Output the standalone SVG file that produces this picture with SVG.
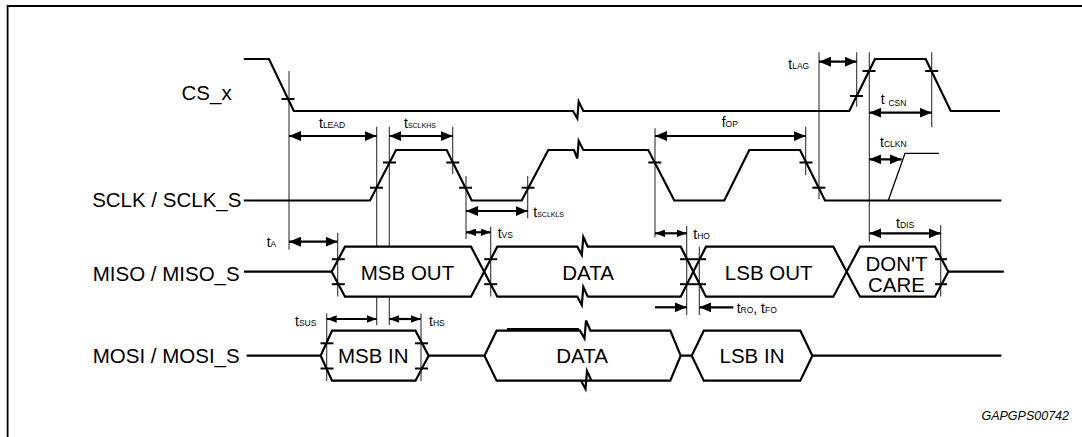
<svg xmlns="http://www.w3.org/2000/svg" width="1082" height="437" viewBox="0 0 1082 437">
<style>
.sig{fill:none;stroke:#000;stroke-width:2.2;stroke-linejoin:miter}
.thin{fill:none;stroke:#000;stroke-width:1.3}
.ref{stroke:#333;stroke-width:1.1}
.tick{stroke:#000;stroke-width:2}
.arr{stroke:#000;stroke-width:2.2}
.lbl{font-family:"Liberation Sans",Arial,sans-serif;font-size:20.5px;fill:#000}
.box{font-family:"Liberation Sans",Arial,sans-serif;font-size:20.5px;fill:#000;text-anchor:middle}
.t{font-family:"Liberation Sans",Arial,sans-serif;font-size:14px;fill:#000}
.sub{font-size:8.5px}
.sub7{font-size:7px}
.id{font-family:"Liberation Sans",Arial,sans-serif;font-size:12.5px;font-style:italic;fill:#000;text-anchor:end}
</style>
<defs>
<marker id="ah" viewBox="0 0 12 10" refX="12" refY="5" markerWidth="12" markerHeight="10" markerUnits="userSpaceOnUse" orient="auto-start-reverse"><path d="M0,0 L12,5 L0,10 z" fill="#000"/></marker>
<marker id="as" viewBox="0 0 10 7.5" refX="10" refY="3.75" markerWidth="10" markerHeight="7.5" markerUnits="userSpaceOnUse" orient="auto-start-reverse"><path d="M0,0 L10,3.75 L0,7.5 z" fill="#000"/></marker>
</defs>
<rect width="1082" height="437" fill="#fff"/>
<g id="frame" fill="none" stroke="#000" stroke-width="1.8">
<path d="M7.6,437 V6 H1082"/>
</g>

<g id="references">
<line class="ref" x1="289" y1="71" x2="289" y2="249.5"/>
<line class="ref" x1="337.7" y1="233" x2="337.7" y2="296.5"/>
<line class="ref" x1="376.7" y1="126.7" x2="376.7" y2="246.7"/>
<line class="ref" x1="376.7" y1="296.7" x2="376.7" y2="325"/>
<line class="ref" x1="389.3" y1="126.7" x2="389.3" y2="246.7"/>
<line class="ref" x1="389.3" y1="296.7" x2="389.3" y2="325"/>
<line class="ref" x1="452.7" y1="126.7" x2="452.7" y2="174"/>
<line class="ref" x1="466" y1="176" x2="466" y2="239"/>
<line class="ref" x1="490.7" y1="226.7" x2="490.7" y2="296.5"/>
<line class="ref" x1="527.7" y1="176" x2="527.7" y2="218.3"/>
<line class="ref" x1="655" y1="128.3" x2="655" y2="237.3"/>
<line class="ref" x1="686.7" y1="226" x2="686.7" y2="315"/>
<line class="ref" x1="699.3" y1="246.7" x2="699.3" y2="315"/>
<line class="ref" x1="805.7" y1="126.7" x2="805.7" y2="175"/>
<line class="ref" x1="819" y1="52.3" x2="819" y2="199.3"/>
<line class="ref" x1="856.7" y1="52.3" x2="856.7" y2="106.7"/>
<line class="ref" x1="869.3" y1="52.3" x2="869.3" y2="241.7"/>
<line class="ref" x1="931.7" y1="52.3" x2="931.7" y2="127.3"/>
<line class="ref" x1="940.7" y1="225" x2="940.7" y2="296.5"/>
<line class="ref" x1="326.7" y1="313.3" x2="326.7" y2="381"/>
<line class="ref" x1="421" y1="313.3" x2="421" y2="381"/>
</g>

<g id="cs">
<text class="lbl" x="231.7" y="100" text-anchor="end">CS_x</text>
<path class="sig" d="M243.8,59 H269 L293.8,111 H573 L577.3,118.5 L578.7,101.5 L583.3,111 H849.3 L875,59 H925.7 L950.7,111 H1000"/>
<g class="tick"><line x1="281.5" y1="99" x2="294.5" y2="99"/><line x1="850" y1="96" x2="863" y2="96"/><line x1="862.5" y1="71" x2="875.5" y2="71"/><line x1="925.2" y1="71" x2="938.2" y2="71"/></g>
</g>

<g id="sclk">
<text class="lbl" x="241.4" y="206.7" text-anchor="end">SCLK / SCLK_S</text>
<path class="sig" d="M243.8,200.5 H370 L396,150 H446.7 L471.7,200.5 H521.7 L548.3,150 H574 L577.3,158.5 L578.7,141 L583.3,150 H648.3 L674.3,200.5 H724.3 L749.3,150 H800 L825,200.5 H1001.4"/>
<path class="thin" d="M888.3,200.5 L905,153.3 H939"/>
<g class="tick"><line x1="370" y1="187.7" x2="383" y2="187.7"/><line x1="383" y1="162.5" x2="396" y2="162.5"/><line x1="446.3" y1="162.5" x2="459.3" y2="162.5"/><line x1="459" y1="187.7" x2="472" y2="187.7"/><line x1="521.5" y1="187.7" x2="534.5" y2="187.7"/><line x1="648.3" y1="162.5" x2="661.3" y2="162.5"/><line x1="799.5" y1="162.5" x2="812.5" y2="162.5"/><line x1="812.3" y1="187.7" x2="825.3" y2="187.7"/></g>
</g>

<g id="miso">
<text class="lbl" x="239.7" y="280.5" text-anchor="end">MISO / MISO_S</text>
<path class="sig" d="M244,271.7 H331.7 L345,246.7 H471 L497.3,296.7 H577.3 L581.8,305 L583.3,287 L587.8,296.7 H680.7 L706,246.7 H833.3 L860,296.7 H935 L948.3,271.7 H1003.8"/>
<path class="sig" d="M331.7,271.7 L345,296.7 H471 L497.3,246.7 H577.3 L581.8,255 L583.3,237 L587.8,246.7 H680.7 L706,296.7 H833.3 L860,246.7 H935 L948.3,271.7"/>
<g class="tick"><line x1="331.8" y1="259.2" x2="344.8" y2="259.2"/><line x1="331.8" y1="284.2" x2="344.8" y2="284.2"/><line x1="484.2" y1="259.2" x2="497.2" y2="259.2"/><line x1="484.2" y1="284.2" x2="497.2" y2="284.2"/><line x1="680" y1="259.2" x2="706" y2="259.2"/><line x1="680" y1="284.2" x2="706" y2="284.2"/><line x1="935" y1="259.2" x2="947" y2="259.2"/><line x1="935" y1="284.2" x2="947" y2="284.2"/></g>
<text class="box" x="407.5" y="279.5">MSB OUT</text>
<text class="box" x="588" y="279.5">DATA</text>
<text class="box" x="768.7" y="279.5">LSB OUT</text>
<text class="box" x="896.5" y="270.7">DON'T</text>
<text class="box" x="896.5" y="291.7">CARE</text>
</g>

<g id="mosi">
<text class="lbl" x="239.7" y="363.3" text-anchor="end">MOSI / MOSI_S</text>
<path class="sig" d="M246.6,355.7 H320.7 L332,330.7 H415.5 L428.6,355.7 L415.5,380.7 H332 L320.7,355.7 M428.6,355.7 H484.5 L496.6,330.7 H580 L584.5,338.5 L586,320.5 L590.5,330.7 H670.3 L680.7,355.7 L670.3,380.7 H581 L585.5,389 L587,371 L591.5,380.7 M581,380.7 H496.6 L484.5,355.7 M680.7,355.7 H691.7 L703.8,330.7 H800.3 L812.4,355.7 L800.3,380.7 H703.8 L691.7,355.7 M812.4,355.7 H1001.4"/>
<line class="sig" x1="507" y1="329.2" x2="579" y2="329.2"/>
<g class="tick"><line x1="320.5" y1="343.3" x2="333.5" y2="343.3"/><line x1="320.5" y1="368.5" x2="333.5" y2="368.5"/><line x1="415" y1="343.3" x2="428" y2="343.3"/><line x1="415" y1="368.5" x2="428" y2="368.5"/></g>
<text class="box" x="373.3" y="363.3">MSB IN</text>
<text class="box" x="582" y="363.3">DATA</text>
<text class="box" x="752" y="363.3">LSB IN</text>
</g>

<g id="timings">
<line class="arr" x1="289" y1="136" x2="376.7" y2="136" marker-start="url(#ah)" marker-end="url(#ah)"/>
<line class="arr" x1="389.3" y1="136" x2="452.7" y2="136" marker-start="url(#ah)" marker-end="url(#ah)"/>
<line class="arr" x1="466" y1="211" x2="527.7" y2="211" marker-start="url(#ah)" marker-end="url(#ah)"/>
<line class="arr" x1="655" y1="136" x2="805.7" y2="136" marker-start="url(#ah)" marker-end="url(#ah)"/>
<line class="arr" x1="819" y1="61.7" x2="856.7" y2="61.7" marker-start="url(#ah)" marker-end="url(#ah)"/>
<line class="arr" x1="869.3" y1="112.7" x2="931.7" y2="112.7" marker-start="url(#ah)" marker-end="url(#ah)"/>
<line class="arr" x1="869.3" y1="159.3" x2="901.7" y2="159.3" marker-start="url(#ah)" marker-end="url(#ah)"/>
<line class="arr" x1="289" y1="241.7" x2="337.7" y2="241.7" marker-start="url(#ah)" marker-end="url(#ah)"/>
<line class="arr" x1="466" y1="232.3" x2="490.7" y2="232.3" marker-start="url(#as)" marker-end="url(#as)"/>
<line class="arr" x1="655" y1="233.3" x2="686.7" y2="233.3" marker-start="url(#as)" marker-end="url(#as)"/>
<line class="arr" x1="869.3" y1="233.3" x2="940.7" y2="233.3" marker-start="url(#ah)" marker-end="url(#ah)"/>
<line class="arr" x1="326.7" y1="319" x2="376.7" y2="319" marker-start="url(#as)" marker-end="url(#as)"/>
<line class="arr" x1="389.3" y1="319" x2="420.7" y2="319" marker-start="url(#as)" marker-end="url(#as)"/>
<line class="arr" x1="655" y1="307.3" x2="686.7" y2="307.3" marker-end="url(#ah)"/>
<line class="arr" x1="733.3" y1="307.3" x2="699.3" y2="307.3" marker-end="url(#ah)"/>

<text class="t" x="319" y="128">t<tspan class="sub">LEAD</tspan></text>
<text class="t" x="404" y="128">t<tspan class="sub7">SCLKHS</tspan></text>
<text class="t" x="533.3" y="217.3">t<tspan class="sub7">SCLKLS</tspan></text>
<text class="t" x="721.7" y="127">f<tspan class="sub">OP</tspan></text>
<text class="t" x="788.3" y="69.3">t<tspan class="sub">LAG</tspan></text>
<text class="t" x="880.7" y="104">t <tspan class="sub" dy="1.5">CSN</tspan></text>
<text class="t" x="880" y="146.7">t<tspan class="sub">CLKN</tspan></text>
<text class="t" x="266.7" y="246.7">t<tspan class="sub">A</tspan></text>
<text class="t" x="497.7" y="238.3">t<tspan class="sub">VS</tspan></text>
<text class="t" x="693.3" y="239.3">t<tspan class="sub">HO</tspan></text>
<text class="t" x="896" y="228.3">t<tspan class="sub">DIS</tspan></text>
<text class="t" x="295" y="326">t<tspan class="sub">SUS</tspan></text>
<text class="t" x="429" y="326">t<tspan class="sub">HS</tspan></text>
<text class="t" x="736.7" y="313.3">t<tspan class="sub">RO</tspan>, t<tspan class="sub">FO</tspan></text>
</g>

<text class="id" x="1069" y="420">GAPGPS00742</text>
</svg>
